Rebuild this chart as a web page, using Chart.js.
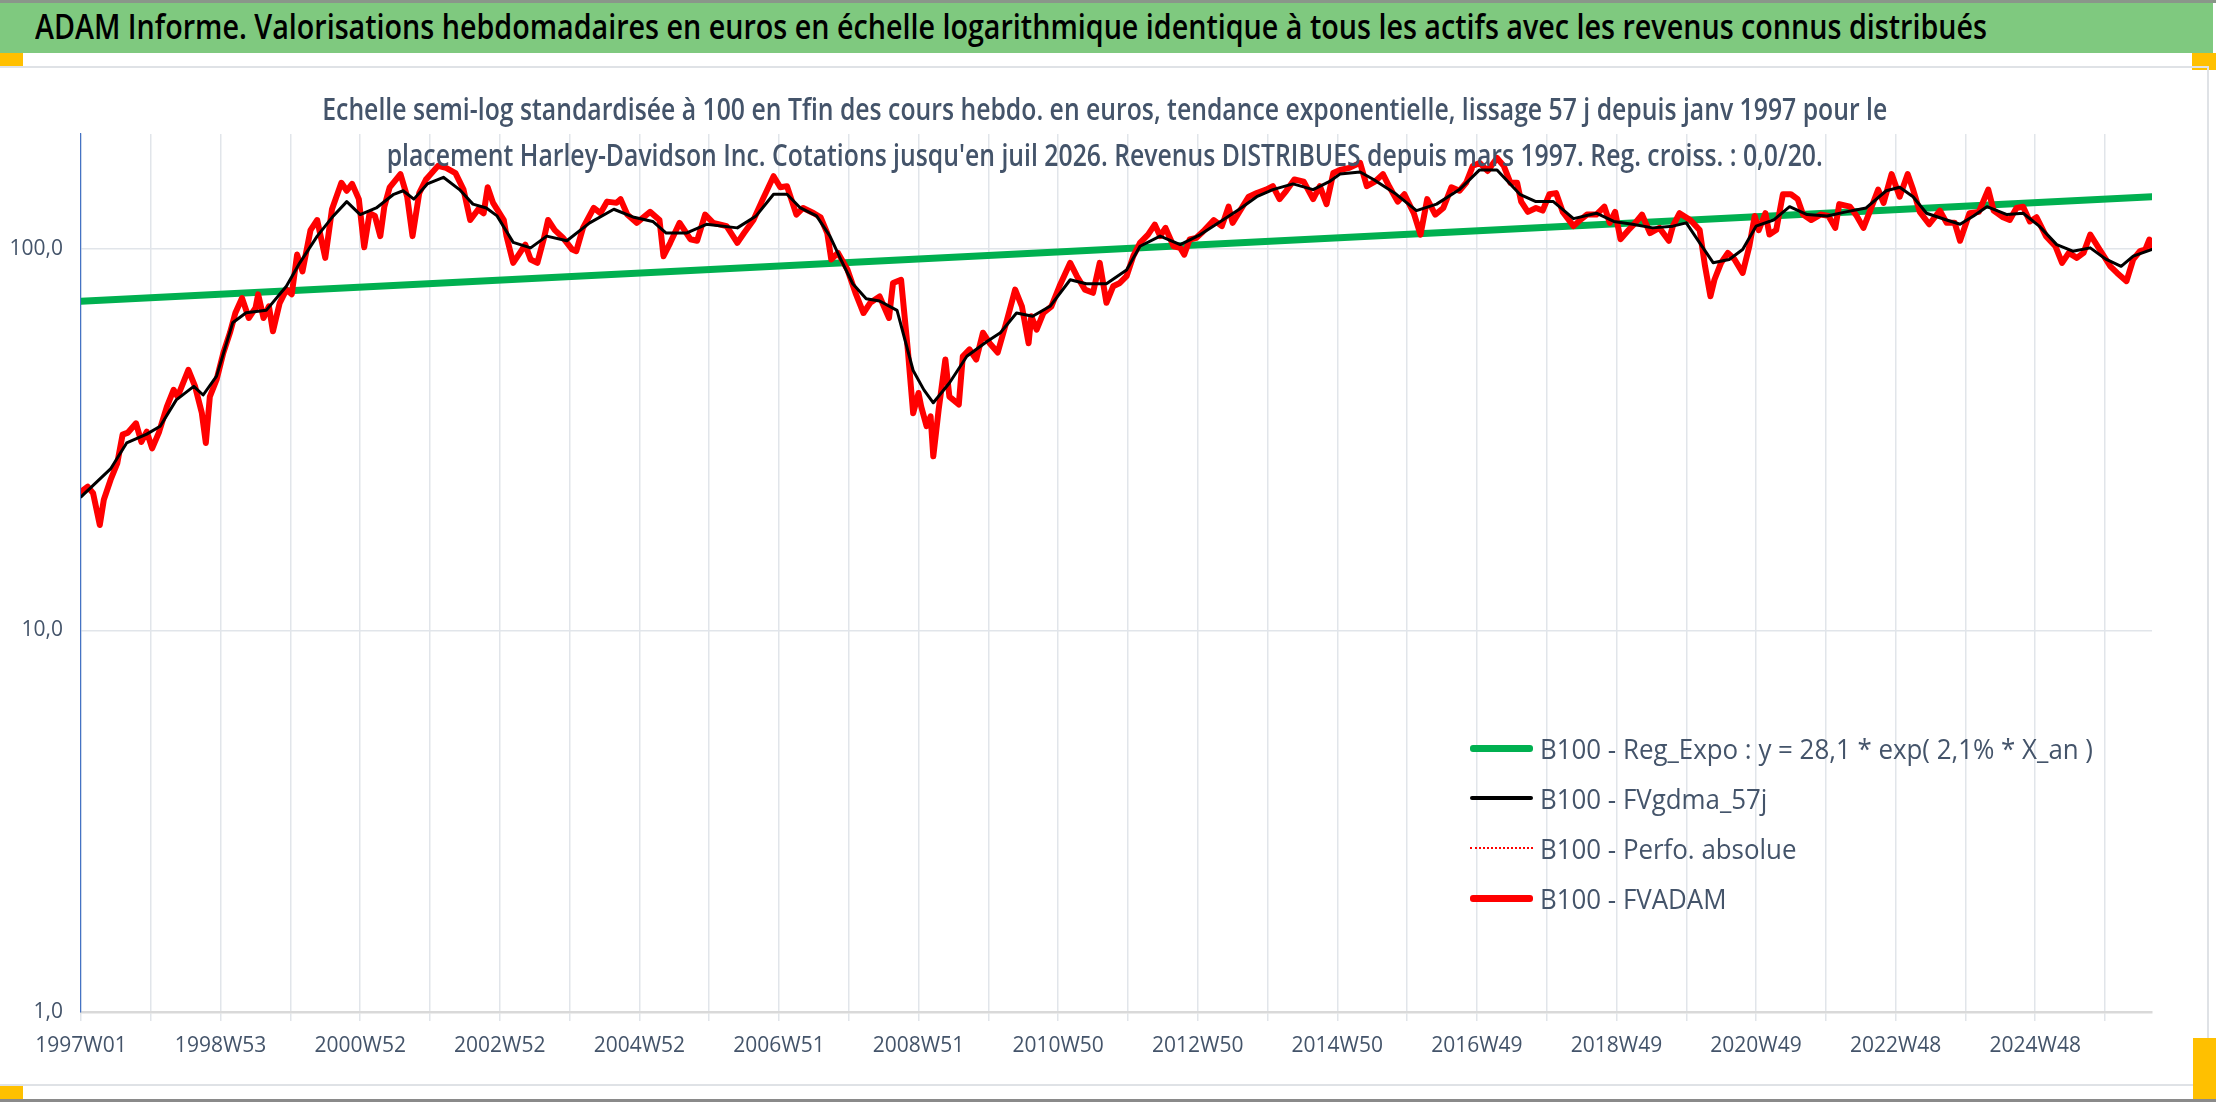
<!DOCTYPE html>
<html>
<head>
<meta charset="utf-8">
<script src="https://cdn.jsdelivr.net/npm/chart.js@4.4.1/dist/chart.umd.min.js"></script>
<style>
  body { margin: 0; width: 2216px; height: 1102px; position: relative; overflow: hidden; background: #fff; font-family: 'Open Sans', 'Liberation Sans', sans-serif; }
  .abs { position: absolute; }
  .fit { display: inline-block; white-space: nowrap; line-height: 1; }
  #topline { left: 0; top: 0; width: 2216px; height: 3px; background: #8a968a; }
  #banner { left: 0; top: 3px; width: 2213px; height: 50px; background: #7fc97f; }
  #bannerText { left: 35px; top: 9px; font-size: 34px; font-weight: 600; color: #000; }
  .mark { background: #ffc000; }
  #frame { left: 0; top: 66px; width: 2209px; height: 1020px; box-sizing: border-box; border: 2px solid #dfe2e6; border-left: none; }
  #chartBox { left: 0; top: 67px; width: 2208px; height: 1018px; }
  .subLine { left: 0; width: 2209px; text-align: center; }
  .sub { color: #44546a; font-size: 30px; font-weight: 600; }
  .legendRow { left: 1470px; height: 28px; }
  .legendLine { position: absolute; left: 0; width: 63px; }
  .legendText { position: absolute; left: 70px; top: 0; font-size: 28px; color: #44546a; }
  #bottomline { left: 0; top: 1099px; width: 2216px; height: 3px; background: #8a8a8a; }
</style>
</head>
<body>
<div id="topline" class="abs"></div>
<div id="banner" class="abs"></div>
<div id="bannerText" class="abs fit">ADAM Informe. Valorisations hebdomadaires en euros en échelle logarithmique identique à tous les actifs avec les revenus connus distribués</div>
<div class="abs mark" style="left:0;top:53px;width:23px;height:13px"></div>
<div class="abs mark" style="left:2192px;top:53px;width:24px;height:17px"></div>
<div id="frame" class="abs"></div>
<div id="chartBox" class="abs"><canvas id="chart"></canvas></div>
<div class="abs subLine" style="top:94px"><span class="fit sub">Echelle semi-log standardisée à 100 en Tfin des cours hebdo. en euros, tendance exponentielle, lissage 57 j depuis janv 1997 pour le</span></div>
<div class="abs subLine" style="top:140px"><span class="fit sub">placement Harley-Davidson Inc. Cotations jusqu'en juil 2026. Revenus DISTRIBUES depuis mars 1997. Reg. croiss. : 0,0/20.</span></div>
<div id="legend"></div>
<div class="abs mark" style="left:2193px;top:1038px;width:23px;height:61px"></div>
<div class="abs mark" style="left:0;top:1086px;width:23px;height:13px"></div>
<div id="bottomline" class="abs"></div>

<script>
// --- Data (x = week index since 1997W01) ---
const xTickLabels = ['1997W01', '1998W53', '2000W52', '2002W52', '2004W52', '2006W51', '2008W51', '2010W50',
  '2012W50', '2014W50', '2016W49', '2018W49', '2020W49', '2022W48', '2024W48'];
const yTickValues = [1, 10, 100];

// B100 - FVADAM (weekly valuation, base 100)
const fvadamWeeks = [
  0, 5, 9, 14, 17, 22, 27, 31, 35, 41,
  45, 49, 53, 58, 64, 69, 72, 80, 85, 90,
  93, 96, 101, 106, 111, 115, 120, 125, 130, 132,
  136, 140, 143, 148, 153, 157, 161, 165, 171, 176,
  182, 187, 194, 198, 202, 207, 211, 215, 219, 223,
  226, 230, 238, 243, 247, 252, 257, 266, 272, 279,
  285, 290, 296, 300, 303,
  307, 315, 317, 322, 327, 331, 335, 340, 345, 348,
  353, 359, 366, 369, 374, 382, 387, 392, 399, 402,
  407, 414, 424, 431, 434, 439, 446, 454, 459, 465,
  471, 481, 489, 494, 501, 508, 516, 521, 526, 533,
  538, 546, 551, 556, 559, 564, 571, 577, 583, 588,
  595, 602, 605, 611,
  616, 620, 624, 626, 630, 633, 635, 639, 644, 647,
  654, 657, 662, 667, 672, 677, 683, 690, 696, 701,
  706, 708, 712, 717, 723, 729, 737, 742, 748, 754,
  759, 764, 769, 774, 779, 784, 789, 795, 800, 804,
  808, 814, 819, 822, 826, 831, 836, 844, 850, 855,
  858, 863, 870, 876, 883, 888, 893, 898, 904, 911,
  918, 923, 928, 933,
  938, 945, 953, 958, 964, 970, 975, 981, 986, 993,
  998, 1003, 1009, 1015, 1021, 1027, 1032, 1037, 1042, 1048,
  1055, 1060, 1065, 1070, 1073, 1078, 1084, 1089, 1094, 1099,
  1104, 1112, 1117, 1122, 1129, 1135, 1139, 1143, 1147, 1153,
  1158, 1163, 1169, 1176, 1183, 1186, 1191, 1199, 1206, 1210,
  1214, 1217, 1222, 1227, 1232, 1238, 1243, 1247,
  1250, 1255, 1258, 1263, 1268, 1274, 1279, 1283, 1289, 1296,
  1302, 1307, 1310, 1318, 1323, 1328, 1333, 1339, 1343, 1349,
  1355, 1361, 1365, 1370, 1377, 1385, 1390, 1396, 1400, 1407,
  1414, 1421, 1425, 1432, 1437, 1442, 1447, 1452, 1457, 1464,
  1471, 1476, 1481, 1487, 1492, 1497, 1504, 1512, 1517, 1524,
  1529, 1534, 1538, 1541, 1543
];
const fvadamValues = [
  23.1, 23.8, 22.9, 18.9, 22.0, 24.8, 27.4, 32.6, 33.0, 34.9,
  31.2, 33.2, 30.0, 33.0, 38.6, 42.7, 41.0, 48.2, 43.6, 37.2,
  31.0, 41.0, 45.4, 53.3, 60.3, 67.9, 74.3, 65.9, 70.0, 76.0,
  65.9, 70.7, 60.8, 72.1, 78.2, 76.0, 96.6, 87.3, 112, 119,
  94.7, 127, 149, 142, 148, 135, 101, 124, 122, 108,
  129, 145, 157, 137, 108, 140, 152, 165, 163, 158,
  143, 119, 127, 124, 145,
  132, 119, 108, 91.9, 97.6, 102.6, 93.8, 91.9, 106.9, 119,
  112, 107, 99.6, 98.6, 113.5, 128, 124, 133, 132, 135,
  123, 117, 125, 119, 95.7, 103.7, 117, 106, 105, 123,
  117, 114.7, 103.7, 110, 119, 135, 155, 145, 146, 123,
  128, 124, 121, 110, 93.8, 97.6, 88.3, 76.7, 67.9, 72.2,
  75, 65.9, 81.4, 83,
  54.5, 37.1, 41.9, 38.6, 34.3, 36.4, 28.6, 37.9, 51.3, 41,
  39.1, 52.3, 54.5, 51.3, 60.3, 56.6, 53.5, 65.3, 78.2, 70.7,
  56.6, 66.6, 61.4, 67.9, 70.7, 79.8, 91.9, 84.8, 78.2, 76.7,
  91.9, 72.2, 79.8, 81.4, 84.8, 95.7, 103.7, 109, 115.8, 108,
  113.5, 101.6, 100.6, 96.6, 105.8, 106.9, 111, 119, 114.7, 129,
  117, 125, 137, 140, 143, 146, 135, 142, 152, 150,
  135, 146, 131, 158,
  161, 163, 168, 146, 150, 157, 145, 133, 139, 124,
  109, 135, 123, 128, 145, 142, 149, 165, 168, 160,
  173, 165, 149, 149, 133, 125, 128, 126, 139, 140,
  125, 114.7, 119, 123, 123, 129, 117, 125, 106, 112,
  117, 123, 110, 113.5, 105, 114.7, 124, 119, 112, 90,
  75.1, 83, 92, 97.6, 93.8, 86.5, 101.6, 122,
  112, 124, 109, 112, 139, 139, 135, 123, 119, 123,
  122, 113.5, 131, 129, 122, 113.5, 126, 143, 132, 157,
  137, 157, 143, 125, 116, 126, 117, 117, 105, 124,
  125, 143, 126, 121, 119, 128, 129, 118, 121, 108,
  101.6, 91.9, 97.6, 94.7, 97.6, 109, 99.6, 90, 86.5, 82.3,
  93.8, 98.6, 99.6, 105.8, 100.6
];

// B100 - FVgdma_57j (smoothed)
const smoothWeeks = [
  0, 22, 34, 49, 59, 71, 84, 91, 101, 113,
  123, 138, 153, 163, 176, 188, 198, 208, 220, 233,
  240, 248, 258, 270, 282, 292, 302,
  310, 322, 335, 347, 362, 379, 397, 412, 426, 436,
  451, 466, 489, 503, 516, 526, 536, 548, 558, 566,
  575, 585, 595, 608,
  620, 628, 635, 647, 660, 675, 685, 697, 709, 722,
  737, 749, 764, 779, 789, 804, 819, 834, 849, 863,
  876, 888, 903, 918, 930,
  938, 953, 963, 980, 995, 1010, 1027, 1042, 1055, 1072,
  1084, 1097, 1112, 1129, 1142, 1156, 1171, 1186, 1196, 1206,
  1216, 1228, 1238,
  1248, 1261, 1273, 1286, 1301, 1315, 1330, 1345, 1355, 1365,
  1375, 1390, 1400, 1410, 1420, 1435, 1447, 1459, 1472, 1484,
  1497, 1509, 1520, 1529, 1543
];
const smoothValues = [
  22.4, 26.5, 31, 32.7, 34.3, 40.2, 43.6, 41.4, 46.4, 64,
  68, 69, 79.8, 91.9, 108, 122, 133, 123, 128, 139,
  142, 135, 148, 154, 143, 131, 128,
  122, 104, 100.6, 108, 105, 117, 127, 121, 118, 110,
  110, 116, 113.5, 122, 139, 139, 128, 122, 108, 94,
  81, 74, 73, 69,
  48, 42.7, 39.5, 44.5, 52.3, 57.2, 60.3, 67.9, 66.6, 70.7,
  83, 81, 81, 88, 101.6, 108, 102.6, 109, 118, 127,
  137, 143, 148, 143, 150,
  157, 159, 152, 139, 126, 131, 143, 161, 161, 139,
  133, 133, 120, 124, 118, 116, 113.5, 114.7, 117, 103.7,
  92, 93.8, 99.6,
  114.7, 119, 129, 123, 122, 125, 128, 142, 145, 137,
  124, 119, 116, 122, 129, 123, 124, 114.7, 102.6, 98.6,
  100.6, 93.8, 90, 95.7, 99.6
];

// B100 - Reg_Expo (straight on the log scale): ends of the trend line
const trendWeeks = [0, 1543];
const trendValues = [72.9, 136.9];

const lastWeek = 1543;
const gridStep = 52;   // one vertical grid line per year
const labelStep = 104; // one label every two years

const toPoints = (ws, vs) => ws.map((w, i) => ({ x: w, y: vs[i] }));
const fvadamPoints = toPoints(fvadamWeeks, fvadamValues);

const tickFont = { family: "'Open Sans', 'Liberation Sans', sans-serif", size: 21 };
const tickColor = '#44546a';
const gridColor = '#e1e5ea';

const chart = new Chart(document.getElementById('chart'), {
  type: 'line',
  data: {
    datasets: [
      { label: 'B100 - Reg_Expo : y = 28,1 * exp( 2,1% *  X_an )', data: toPoints(trendWeeks, trendValues),
        borderColor: '#00b050', borderWidth: 7, order: 3 },
      { label: 'B100 - FVgdma_57j', data: toPoints(smoothWeeks, smoothValues),
        borderColor: '#000000', borderWidth: 3, order: 0 },
      { label: 'B100 - Perfo. absolue', data: fvadamPoints,
        borderColor: '#ff0000', borderWidth: 2, borderDash: [2, 3], order: 2 },
      { label: 'B100 - FVADAM', data: fvadamPoints,
        borderColor: '#ff0000', borderWidth: 6, order: 1 }
    ]
  },
  options: {
    responsive: true,
    maintainAspectRatio: false,
    animation: false,
    layout: { padding: { top: 67, right: 56, left: 0, bottom: 0 } },
    elements: {
      point: { radius: 0 },
      line: { tension: 0, borderJoinStyle: 'round', borderCapStyle: 'round', fill: false }
    },
    plugins: { legend: { display: false }, title: { display: false }, tooltip: { enabled: false } },
    scales: {
      x: {
        type: 'linear',
        min: 0,
        max: lastWeek,
        afterFit: s => { s.height = 73; },
        afterBuildTicks: s => {
          const t = [];
          for (let v = 0; v <= lastWeek; v += gridStep) t.push({ value: v });
          s.ticks = t;
        },
        border: { color: '#d9d9d9', width: 2.5 },
        grid: { color: gridColor, lineWidth: 1.5, tickLength: 9 },
        ticks: {
          autoSkip: false, maxRotation: 0, padding: 12, color: tickColor, font: tickFont,
          callback: v => (v % labelStep === 0 ? xTickLabels[v / labelStep] : '')
        }
      },
      y: {
        type: 'logarithmic',
        min: 1,
        max: 200,
        afterFit: s => { s.width = 81; },
        afterBuildTicks: s => { s.ticks = yTickValues.map(v => ({ value: v })); },
        border: { color: '#4472c4', width: 1.2 },
        grid: { color: gridColor, lineWidth: 1.5, drawTicks: false },
        ticks: {
          padding: 18, color: tickColor, font: tickFont,
          callback: v => Number(v).toFixed(1).replace('.', ',')
        }
      }
    }
  }
});

// --- Legend inside the plot, bottom right ---
const legendTops = [734, 784, 834, 884];
const legend = document.getElementById('legend');
chart.data.datasets.forEach((ds, i) => {
  const row = document.createElement('div');
  row.className = 'abs legendRow';
  row.style.top = legendTops[i] + 'px';
  const line = document.createElement('div');
  line.className = 'legendLine';
  const w = ds.borderDash ? 2.5 : (i === 1 ? 4.5 : 7);
  line.style.top = (14 - w / 2) + 'px';
  line.style.borderTop = w + 'px ' + (ds.borderDash ? 'dotted ' : 'solid ') + ds.borderColor;
  if (!ds.borderDash) line.style.borderRadius = '3px';
  const txt = document.createElement('span');
  txt.className = 'legendText fit';
  txt.textContent = ds.label;
  row.appendChild(line);
  row.appendChild(txt);
  legend.appendChild(row);
});

// squeeze the html texts horizontally to the widths in the picture
function squeeze(els, target, origin) {
  const s = target / els[0].getBoundingClientRect().width;
  els.forEach(el => { el.style.transformOrigin = origin; el.style.transform = 'scaleX(' + s + ')'; });
}
squeeze([document.getElementById('bannerText')], 1952, 'left center');
squeeze(Array.from(document.querySelectorAll('.sub')), 1565, 'center center');
squeeze(Array.from(document.querySelectorAll('.legendText')), 553, 'left center');
</script>
</body>
</html>
